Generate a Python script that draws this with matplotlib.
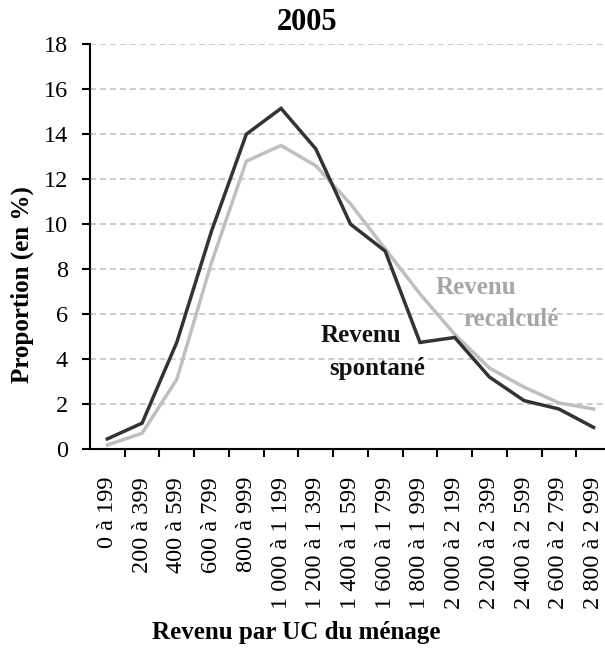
import matplotlib
matplotlib.use("Agg")
import matplotlib.pyplot as plt
from matplotlib.ticker import FixedLocator, FixedFormatter
import numpy as np

categories = ["0 à 199", "200 à 399", "400 à 599", "600 à 799", "800 à 999",
              "1 000 à 1 199", "1 200 à 1 399", "1 400 à 1 599", "1 600 à 1 799",
              "1 800 à 1 999", "2 000 à 2 199", "2 200 à 2 399", "2 400 à 2 599",
              "2 600 à 2 799", "2 800 à 2 999"]
spontane = [0.45, 1.15, 4.75, 9.7, 14.0, 15.15, 13.35, 10.0, 8.8, 4.74, 4.96, 3.2, 2.15, 1.78, 0.96]
recalcule = [0.18, 0.7, 3.1, 8.3, 12.8, 13.5, 12.6, 10.9, 8.9, 6.9, 5.1, 3.6, 2.75, 2.05, 1.78]
yticks = [0, 2, 4, 6, 8, 10, 12, 14, 16, 18]

plt.rcParams['font.family'] = ['Liberation Serif', 'DejaVu Serif']

W, H = 605, 657
fig = plt.figure(figsize=(W/100, H/100), dpi=100)
ax = fig.add_axes([90/W, 1-449/H, (611-90)/W, (449-44.3)/H])

x = np.arange(len(categories))
ax.plot(x, recalcule, color='#BFBFBF', lw=2.5, solid_joinstyle='miter', zorder=3)
ax.plot(x, spontane, color='#333333', lw=2.5, solid_joinstyle='miter', zorder=4)

ax.set_xlim(-0.5, len(categories)-0.5)
ax.set_ylim(0, 18)
ax.set_yticks(yticks)
ax.yaxis.grid(True, color='#BFBFBF', linestyle=(0, (4, 2.5)), lw=1.1)
ax.set_axisbelow(True)

ax.xaxis.set_major_locator(FixedLocator(np.arange(0.5, len(categories)-0.5)))
ax.xaxis.set_major_formatter(FixedFormatter([]))
ax.xaxis.set_minor_locator(FixedLocator(x))
ax.xaxis.set_minor_formatter(FixedFormatter(categories))
ax.tick_params(axis='x', which='minor', length=0, labelsize=17.5, labelrotation=90, pad=20)
ax.tick_params(axis='x', which='major', length=6, width=1.5, direction='out')
ax.tick_params(axis='y', length=6, width=1.5, labelsize=17.5, pad=10)
for lab in ax.xaxis.get_minorticklabels():
    lab.set_verticalalignment('top')

for s in ['top', 'right']:
    ax.spines[s].set_visible(False)
for s in ['left', 'bottom']:
    ax.spines[s].set_linewidth(1.5)

fig.text(307/W, 1-22/H, "2005", ha='center', va='center', fontsize=22, fontweight='bold')
fig.text(22/W, 1-285/H, "Proportion (en %)", ha='center', va='center', rotation=90, fontsize=18, fontweight='bold')
fig.text(296/W, 1-632/H, "Revenu par UC du ménage", ha='center', va='center', fontsize=18, fontweight='bold')

fig.text(361/W, 1-335/H, "Revenu", ha='center', va='center', fontsize=18, fontweight='bold', color='#111111')
fig.text(377/W, 1-368/H, "spontané", ha='center', va='center', fontsize=18, fontweight='bold', color='#111111')
fig.text(476/W, 1-288/H, "Revenu", ha='center', va='center', fontsize=18, fontweight='bold', color='#A6A6A6')
fig.text(511/W, 1-320/H, "recalculé", ha='center', va='center', fontsize=18, fontweight='bold', color='#A6A6A6')

fig.savefig("out.png", dpi=100)
